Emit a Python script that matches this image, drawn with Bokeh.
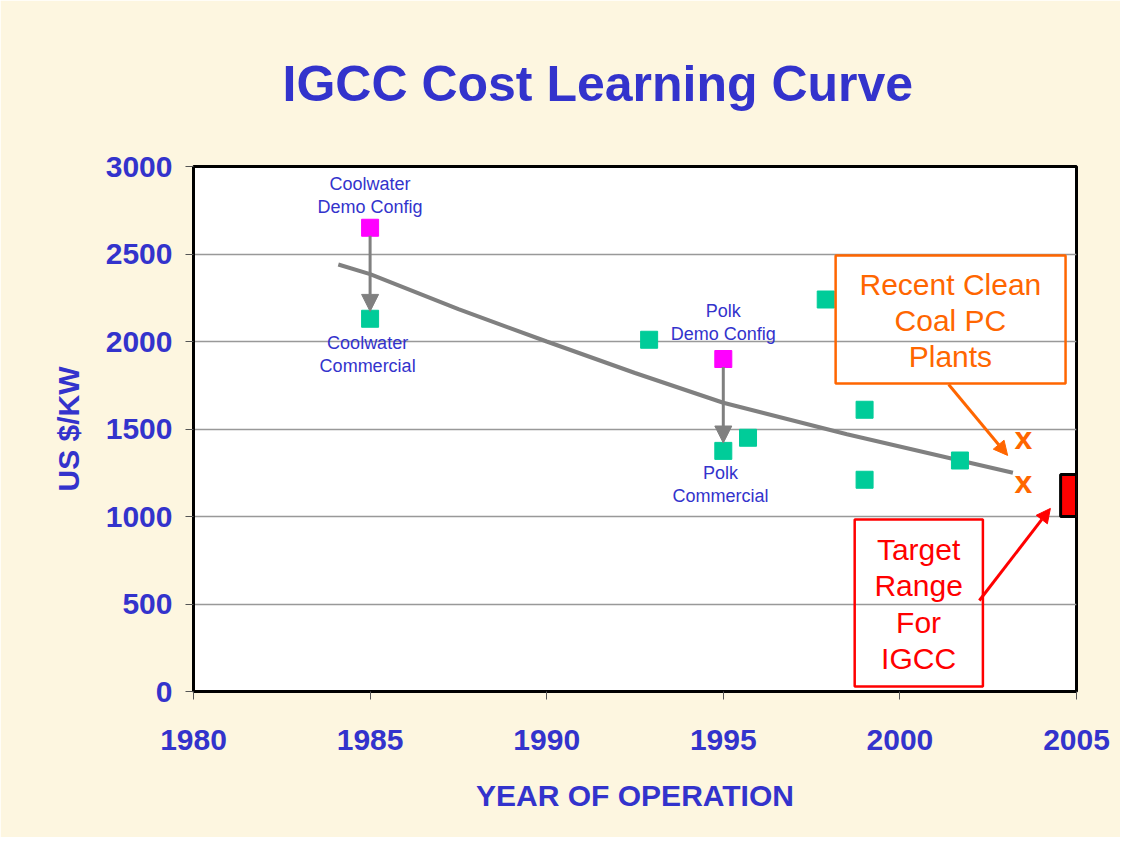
from bokeh.plotting import figure
from bokeh.models import Range1d, FixedTicker, Arrow, NormalHead, Title
from bokeh.core.properties import value
from bokeh.embed import file_html
from bokeh.resources import INLINE

# ---- data ----
demo_years = [1985.0, 1995.0]
demo_costs = [2650, 1900]

plant_years = [1985.0, 1992.9, 1995.0, 1995.7, 1997.9, 1999.0, 1999.0, 2001.7]
plant_costs = [2130, 2010, 1375, 1450, 2240, 1610, 1210, 1320]

pc_years = [2003.5, 2003.5]
pc_costs = [1450, 1200]

trend_years = [1984.1, 1985.0, 1987.5, 1990.0, 1992.5, 1995.0, 1998.5, 2001.7, 2003.2]
trend_costs = [2440, 2385, 2185, 2000, 1820, 1650, 1470, 1320, 1250]

target_year = [2004.55, 2005.0]
target_low = [1000]
target_high = [1240]

x_ticks = [1980, 1985, 1990, 1995, 2000, 2005]
y_ticks = [0, 500, 1000, 1500, 2000, 2500, 3000]

BLUE = "#3333CC"
TEAL = "#00CC99"
MAGENTA = "#FF00FF"
ORANGE = "#FF6600"
RED = "#FF0000"
GRAY = "#808080"
CREAM = "#FDF6E0"
FONT = "Liberation Sans"

p = figure(width=1120, height=837, output_backend="svg", toolbar_location=None,
           x_range=Range1d(1980, 2005), y_range=Range1d(0, 3000),
           min_border_left=193, min_border_right=44,
           min_border_top=166, min_border_bottom=146,
           title="IGCC Cost Learning Curve")
p.background_fill_color = "white"
p.border_fill_color = CREAM
p.outline_line_color = "black"
p.outline_line_width = 3

# main title (outer panel)
p.title.text_font = FONT
p.title.text_font_style = "bold"
p.title.text_font_size = "50px"
p.title.text_color = BLUE
p.title.align = "left"
p.title.offset = 89
p.title.standoff = 0

# spacer title drawn in the background colour (panel closest to the frame)
p.add_layout(Title(text=".", text_font_size="10px", text_color=CREAM, standoff=45),
             "above")

p.xaxis.ticker = FixedTicker(ticks=x_ticks)
p.yaxis.ticker = FixedTicker(ticks=y_ticks)
for ax in (p.xaxis, p.yaxis):
    ax.axis_line_color = "black"
    ax.axis_line_width = 3
    ax.major_tick_line_color = "#555555"
    ax.major_tick_line_width = 1
    ax.major_tick_out = 8
    ax.major_tick_in = 0
    ax.minor_tick_line_color = None
    ax.major_label_text_color = BLUE
    ax.major_label_text_font = FONT
    ax.major_label_text_font_style = "bold"
    ax.major_label_text_font_size = "30px"
    ax.axis_label_text_color = BLUE
    ax.axis_label_text_font = FONT
    ax.axis_label_text_font_style = "bold"
    ax.axis_label_text_font_size = "30px"
p.xaxis.axis_label = "YEAR OF OPERATION"
p.yaxis.axis_label = "US $/KW"
p.xaxis.major_label_standoff = 30
p.xaxis.axis_label_standoff = 26
p.yaxis.major_label_standoff = 13
p.yaxis.axis_label_standoff = 18

p.xgrid.grid_line_color = None
p.ygrid.grid_line_color = "#999999"
p.ygrid.grid_line_width = 1.5

# trend line
p.line(trend_years, trend_costs, line_color=GRAY, line_width=4)

# arrows demo -> commercial
p.add_layout(Arrow(x_start=1985.0, y_start=2604, x_end=1985.0, y_end=2172,
                   line_color=GRAY, line_width=3,
                   end=NormalHead(size=17, fill_color=GRAY, line_color=GRAY)))
p.add_layout(Arrow(x_start=1995.0, y_start=1855, x_end=1995.0, y_end=1420,
                   line_color=GRAY, line_width=3,
                   end=NormalHead(size=17, fill_color=GRAY, line_color=GRAY)))

# points
p.scatter(plant_years, plant_costs, marker="square", size=17,
          fill_color=TEAL, line_color=TEAL)
p.scatter(demo_years, demo_costs, marker="square", size=17,
          fill_color=MAGENTA, line_color=MAGENTA)
p.text(pc_years, pc_costs, text=["x", "x"], text_color=ORANGE,
       text_font=value(FONT), text_font_style="bold", text_font_size="32px",
       text_align="center", text_baseline="middle")

# target range bar
p.quad(left=[target_year[0]], right=[target_year[1]], bottom=target_low,
       top=target_high, fill_color=RED, line_color="black", line_width=3)

# small labels
small = dict(text_font=value(FONT), text_font_size="18px", text_color=BLUE,
             text_align="center", text_baseline="middle", text_line_height=1.15)
p.text([1985.0], [2834], text=["Coolwater\nDemo Config"], **small)
p.text([1984.93], [1923], text=["Coolwater\nCommercial"], **small)
p.text([1995.0], [2109], text=["Polk\nDemo Config"], **small)
p.text([1994.92], [1183], text=["Polk\nCommercial"], **small)

# orange callout box
p.quad(left=[1998.18], right=[2004.69], bottom=[1760], top=[2491],
       fill_alpha=0, line_color=ORANGE, line_width=2.5)
p.text([2001.43], [2120], text=["Recent Clean\nCoal PC\nPlants"],
       text_font=value(FONT), text_font_size="30px", text_color=ORANGE,
       text_align="center", text_baseline="middle", text_line_height=1.1)
p.add_layout(Arrow(x_start=2001.38, y_start=1754, x_end=2003.05, y_end=1349,
                   line_color=ORANGE, line_width=3,
                   end=NormalHead(size=14, fill_color=ORANGE, line_color=ORANGE)))

# red callout box
p.quad(left=[1998.72], right=[2002.35], bottom=[29], top=[983],
       fill_alpha=0, line_color=RED, line_width=2.5)
p.text([2000.53], [500], text=["Target\nRange\nFor\nIGCC"],
       text_font=value(FONT), text_font_size="30px", text_color=RED,
       text_align="center", text_baseline="middle", text_line_height=1.1)
p.add_layout(Arrow(x_start=2002.25, y_start=520, x_end=2004.26, y_end=1046,
                   line_color=RED, line_width=3,
                   end=NormalHead(size=14, fill_color=RED, line_color=RED)))

open("out.html", "w").write(file_html(p, INLINE))
